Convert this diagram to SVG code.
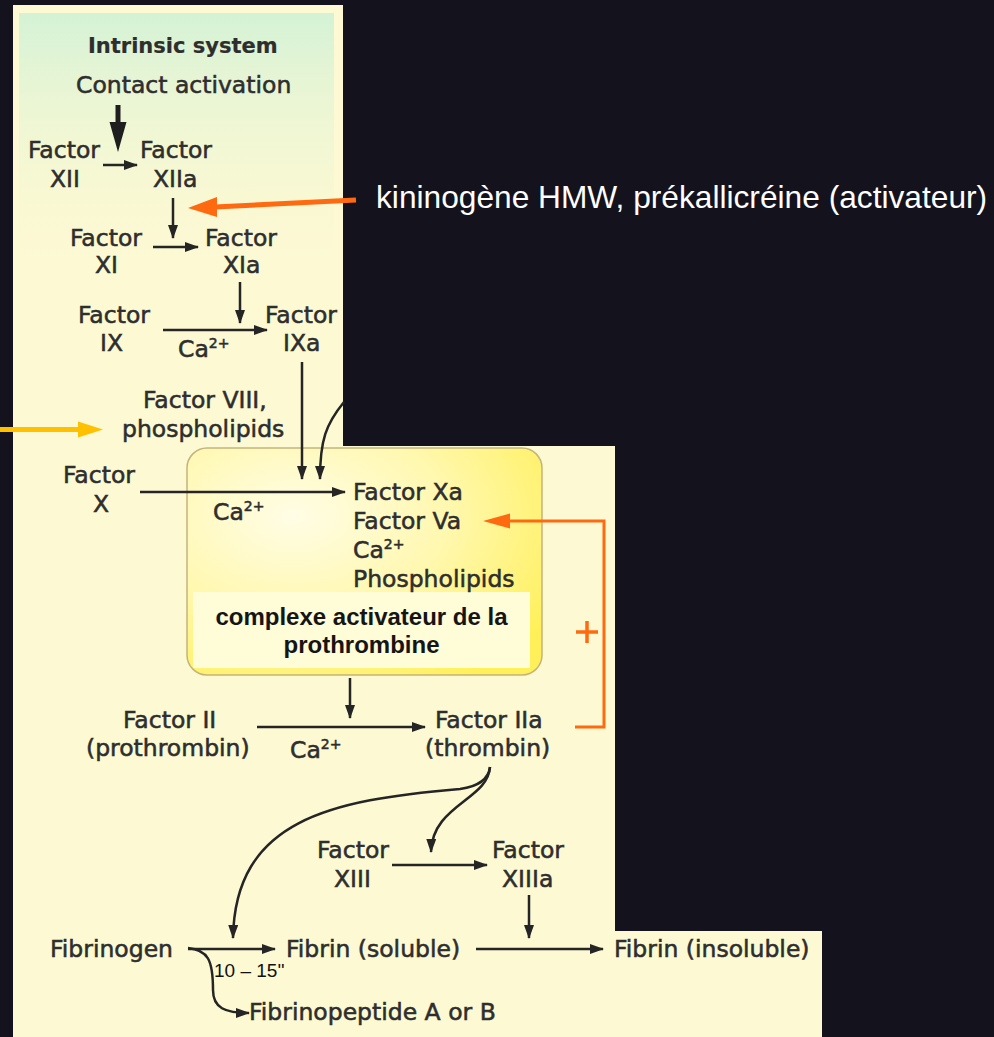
<svg xmlns="http://www.w3.org/2000/svg" width="994" height="1037" viewBox="0 0 994 1037">
<defs>
<style>
.t{font-family:"DejaVu Sans",sans-serif;font-size:23.5px;fill:#2e2e2e;stroke:#2e2e2e;stroke-width:0.55px}
.b{font-weight:bold;font-size:21px;stroke-width:0.2px}
.sup{font-size:14px}
.lb{font-family:"Liberation Sans",Arial,sans-serif;font-weight:bold;font-size:24px;fill:#151515}
.ln{fill:none;stroke:#252525;stroke-width:2.5}
.arr{marker-end:url(#ah)}
</style>
<marker id="ah" viewBox="0 0 14 10" refX="13" refY="5" markerWidth="14" markerHeight="10" markerUnits="userSpaceOnUse" orient="auto">
<path d="M0,0 L14,5 L0,10 z" fill="#252525"/>
</marker>
<linearGradient id="gtop" x1="0" y1="0" x2="0" y2="1">
<stop offset="0" stop-color="#d4f2d6"/>
<stop offset="1" stop-color="#fbf8d2" stop-opacity="0"/>
</linearGradient>
<radialGradient id="gbox" cx="0.3" cy="0.3" r="0.85">
<stop offset="0" stop-color="#fffde6"/>
<stop offset="0.5" stop-color="#fff8b0"/>
<stop offset="1" stop-color="#fff05a"/>
</radialGradient>
</defs>
<rect width="994" height="1037" fill="#13121d"/>
<g id="panel">
<path d="M13,5 H343 V446 H615 V931 H822 V1037 H13 Z" fill="#fcf9d3"/>
<rect x="19" y="13" width="315" height="260" fill="url(#gtop)"/>
</g>
<g id="complex">
<rect x="187" y="448" width="355" height="227" rx="20" fill="url(#gbox)" stroke="#c4b47c" stroke-width="1.5"/>
<rect x="193" y="592" width="337" height="76" fill="#fffcd8"/>
<text class="lb" x="361.5" y="625" text-anchor="middle">complexe activateur de la</text>
<text class="lb" x="361.5" y="653" text-anchor="middle">prothrombine</text>
</g>
<g id="connectors">
<line x1="118" y1="105" x2="118" y2="126" stroke="#1e1e1e" stroke-width="5"/>
<polygon points="109.5,122 126.5,122 118,152" fill="#1e1e1e"/>
<line class="ln arr" x1="103" y1="165" x2="137" y2="165"/>
<line class="ln arr" x1="173" y1="198" x2="173" y2="238"/>
<line class="ln arr" x1="153" y1="247" x2="198" y2="247"/>
<line class="ln arr" x1="240" y1="282" x2="240" y2="323"/>
<line class="ln arr" x1="163" y1="330" x2="267" y2="330"/>
<line class="ln arr" x1="302" y1="362" x2="302" y2="479"/>
<path class="ln arr" d="M344,402 C326,424 320,440 320,479"/>
<line class="ln arr" x1="140" y1="492" x2="345" y2="492"/>
<line class="ln arr" x1="350" y1="678" x2="350" y2="718"/>
<line class="ln arr" x1="257" y1="727" x2="425" y2="727"/>
<path class="ln arr" d="M490,767 Q488,785 460,789 C330,800 235,820 233,938"/>
<path class="ln arr" d="M490,767 C488,800 432,805 431,852"/>
<line class="ln arr" x1="392" y1="865" x2="487" y2="865"/>
<line class="ln arr" x1="529" y1="895" x2="529" y2="938"/>
<line class="ln arr" x1="188" y1="949" x2="275" y2="949"/>
<path class="ln arr" d="M188,948 C208,950 213,960 213,990 C213,1008 225,1013 249,1013"/>
<line class="ln arr" x1="476" y1="949" x2="603" y2="949"/>
<line x1="356" y1="200" x2="215" y2="207" stroke="#ff6a10" stroke-width="5"/>
<polygon points="217,197 217,217 188,208" fill="#ff6a10"/>
<polyline points="575,727 604,727 604,521 508,521" fill="none" stroke="#ff6a10" stroke-width="3"/>
<polygon points="510,513.5 510,528.5 483,521" fill="#ff6a10"/>
<line x1="0" y1="429.5" x2="80" y2="429.5" stroke="#ffc000" stroke-width="5"/>
<polygon points="78,421.5 78,437.5 103,429.5" fill="#ffc000"/>
</g>
<g id="labels">
<text class="t b" x="88" y="53">Intrinsic system</text>
<text class="t" x="76" y="93">Contact activation</text>
</g>
<g id="n-XII"><text class="t" x="28" y="158">Factor</text><text class="t" x="50" y="187">XII</text></g>
<g id="n-XIIa"><text class="t" x="140" y="158">Factor</text><text class="t" x="153" y="187">XIIa</text></g>
<g id="n-XI"><text class="t" x="70" y="246">Factor</text><text class="t" x="95" y="273">XI</text></g>
<g id="n-XIa"><text class="t" x="205" y="246">Factor</text><text class="t" x="223" y="273">XIa</text></g>
<g id="n-IX"><text class="t" x="78" y="323">Factor</text><text class="t" x="100" y="351">IX</text></g>
<g id="n-IXa"><text class="t" x="265" y="323">Factor</text><text class="t" x="283" y="351">IXa</text></g>
<g id="ca1"><text class="t" x="178" y="357">Ca<tspan class="sup" dy="-9">2+</tspan></text></g>
<g id="n-VIII"><text class="t" x="143" y="408">Factor VIII,</text><text class="t" x="122" y="437">phospholipids</text></g>
<g id="n-X"><text class="t" x="63" y="483">Factor</text><text class="t" x="93" y="512">X</text></g>
<g id="ca2"><text class="t" x="213" y="520">Ca<tspan class="sup" dy="-9">2+</tspan></text></g>
<g id="n-Xa">
<text class="t" x="353" y="500">Factor Xa</text>
<text class="t" x="353" y="529">Factor Va</text>
<text class="t" x="353" y="558">Ca<tspan class="sup" dy="-9">2+</tspan></text>
<text class="t" x="353" y="587">Phospholipids</text>
</g>
<g id="n-II"><text class="t" x="123" y="728">Factor II</text><text class="t" x="86" y="756">(prothrombin)</text></g>
<g id="ca3"><text class="t" x="290" y="758">Ca<tspan class="sup" dy="-9">2+</tspan></text></g>
<g id="n-IIa"><text class="t" x="435" y="728">Factor IIa</text><text class="t" x="425" y="756">(thrombin)</text></g>
<g id="n-XIII"><text class="t" x="317" y="858">Factor</text><text class="t" x="334" y="887">XIII</text></g>
<g id="n-XIIIa"><text class="t" x="492" y="858">Factor</text><text class="t" x="502" y="887">XIIIa</text></g>
<g id="n-fibrinogen"><text class="t" x="50" y="957">Fibrinogen</text></g>
<g id="n-fibrin-sol"><text class="t" x="286" y="957">Fibrin (soluble)</text></g>
<g id="n-fibrin-insol"><text class="t" x="614" y="957">Fibrin (insoluble)</text></g>
<g id="n-fibrinopeptide"><text class="t" x="249" y="1020">Fibrinopeptide A or B</text></g>
<g id="time"><text x="214" y="977" font-family="Liberation Sans, Arial, sans-serif" font-size="19" fill="#111">10 – 15''</text></g>
<g id="kininogen"><text x="376" y="208" font-family="Liberation Sans, Arial, sans-serif" font-size="31.7" fill="#ffffff">kininogène HMW, prékallicréine (activateur)</text></g>
<g id="plus"><path d="M576,632 H598 M587,621 V643" stroke="#ff6a10" stroke-width="3.5" fill="none"/></g>
</svg>
